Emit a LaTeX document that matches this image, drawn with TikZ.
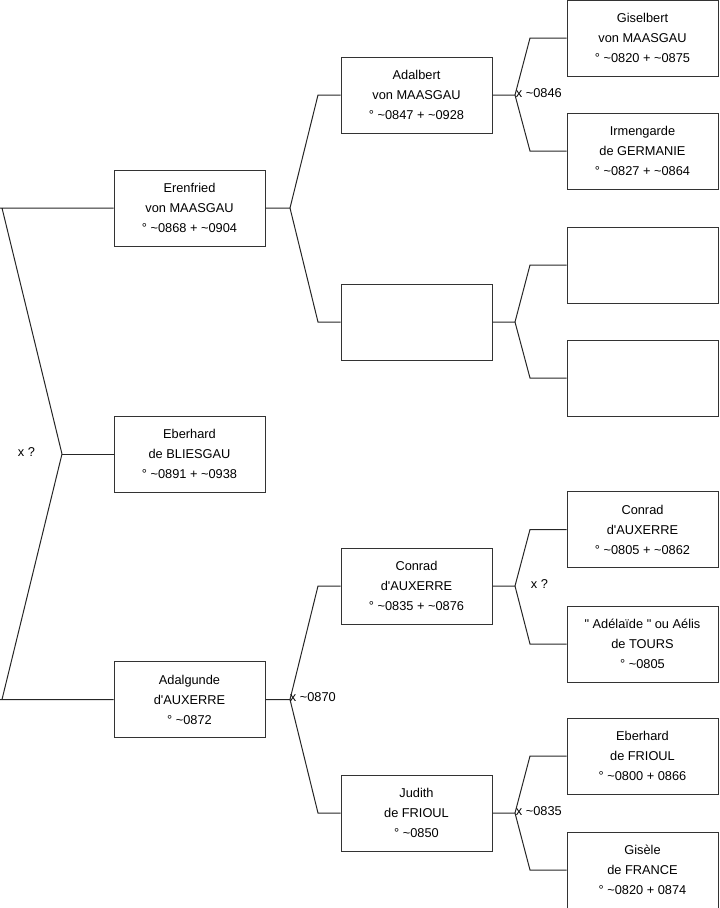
\documentclass[tikz,border=0pt]{standalone}
\usepackage{fontspec}
\newfontfamily\arialf{Liberation Sans}
\newcommand{\tl}{\textasciitilde}
\begin{document}
\begin{tikzpicture}[x=0.75pt,y=-0.75pt,
  person/.style={draw=black!80,line width=0.75pt,fill=white,minimum width=113.25pt,minimum height=57pt,inner sep=0pt,align=center,font=\arialf\fontsize{9.6}{15}\selectfont},
  link/.style={draw=black!85,line width=0.75pt},
  mlabel/.style={font=\arialf\fontsize{9.6}{11}\selectfont,inner sep=0.5pt}]
\useasboundingbox (0,0) rectangle (719,908);
% generation 1
\node[person] (eren) at (189.5,208) {Erenfried\\von MAASGAU\\° \tl0868 + \tl0904};
\node[person] (eber) at (189.5,454) {Eberhard\\de BLIESGAU\\° \tl0891 + \tl0938};
\node[person] (adalg) at (189.5,699.5) {Adalgunde\\d'AUXERRE\\° \tl0872};
% generation 2
\node[person] (adalb) at (416.5,95) {Adalbert\\von MAASGAU\\° \tl0847 + \tl0928};
\node[person] (empty2) at (416.5,322) {};
\node[person] (conr) at (416.5,586) {Conrad\\d'AUXERRE\\° \tl0835 + \tl0876};
\node[person] (jud) at (416.5,813) {Judith\\de FRIOUL\\° \tl0850};
% generation 3
\node[person] (gisb) at (642.5,38) {Giselbert\\von MAASGAU\\° \tl0820 + \tl0875};
\node[person] (irm) at (642.5,151) {Irmengarde\\de GERMANIE\\° \tl0827 + \tl0864};
\node[person] (emptya) at (642.5,265) {};
\node[person] (emptyb) at (642.5,378) {};
\node[person] (conr2) at (642.5,529.5) {Conrad\\d'AUXERRE\\° \tl0805 + \tl0862};
\node[person] (adel) at (642.5,644) {" Adélaïde " ou Aélis\\de TOURS\\° \tl0805};
\node[person] (eberf) at (642.5,756) {Eberhard\\de FRIOUL\\° \tl0800 + 0866};
\node[person] (gisl) at (642.5,870) {Gisèle\\de FRANCE\\° \tl0820 + 0874};
% root bracket
\coordinate (r0) at (62,454);
\coordinate (r1) at (2,208);
\coordinate (r2) at (2,699.5);
\coordinate (r1e) at (0,208);
\coordinate (r2e) at (0,699.5);
\draw[link] (eber.west) -- (r0);
\draw[link] (r0) -- (r1) (r1e) -- (eren.west);
\draw[link] (r0) -- (r2) (r2e) -- (adalg.west);
\node[mlabel,anchor=west] (l0) at (17,452) {x ?};
% Erenfried -> parents
\coordinate (b1) at (290,208);
\coordinate (b1a) at (318,95);
\coordinate (b1b) at (318,322);
\draw[link] (eren.east) -- (b1) -- (b1a) -- (adalb.west);
\draw[link] (b1) -- (b1b) -- (empty2.west);
% Adalgunde -> parents
\coordinate (b2) at (290,699.5);
\coordinate (b2a) at (318,586);
\coordinate (b2b) at (318,813);
\draw[link] (adalg.east) -- (b2) -- (b2a) -- (conr.west);
\draw[link] (b2) -- (b2b) -- (jud.west);
\node[mlabel,anchor=west] (l2) at (289,697.5) {x \tl0870};
% Adalbert -> parents
\coordinate (b3) at (515,95);
\coordinate (b3a) at (530,38);
\coordinate (b3b) at (530,151);
\draw[link] (adalb.east) -- (b3) -- (b3a) -- (gisb.west);
\draw[link] (b3) -- (b3b) -- (irm.west);
\node[mlabel,anchor=west] (l3) at (515,93) {x \tl0846};
% empty -> parents
\coordinate (b4) at (515,322);
\coordinate (b4a) at (530,265);
\coordinate (b4b) at (530,378);
\draw[link] (empty2.east) -- (b4) -- (b4a) -- (emptya.west);
\draw[link] (b4) -- (b4b) -- (emptyb.west);
% Conrad -> parents
\coordinate (b5) at (515,586);
\coordinate (b5a) at (530,529.5);
\coordinate (b5b) at (530,644);
\draw[link] (conr.east) -- (b5) -- (b5a) -- (conr2.west);
\draw[link] (b5) -- (b5b) -- (adel.west);
\node[mlabel,anchor=west] (l5) at (530,584) {x ?};
% Judith -> parents
\coordinate (b6) at (515,813);
\coordinate (b6a) at (530,756);
\coordinate (b6b) at (530,870);
\draw[link] (jud.east) -- (b6) -- (b6a) -- (eberf.west);
\draw[link] (b6) -- (b6b) -- (gisl.west);
\node[mlabel,anchor=west] (l6) at (515,811) {x \tl0835};
\end{tikzpicture}
\end{document}
